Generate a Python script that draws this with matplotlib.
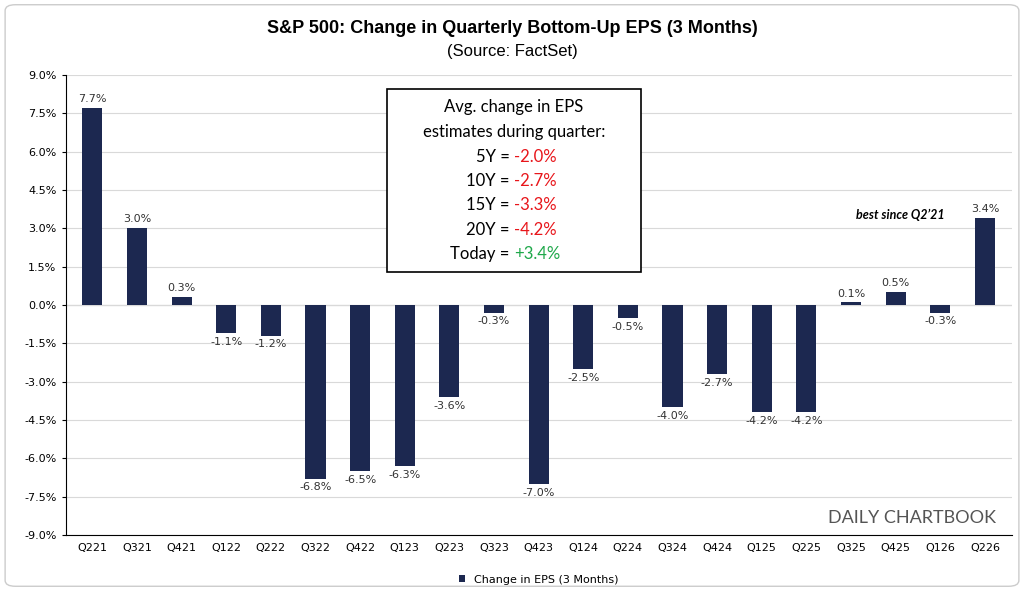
import matplotlib.pyplot as plt
import numpy as np
from matplotlib.patches import FancyBboxPatch

quarters = ['Q221', 'Q321', 'Q421', 'Q122', 'Q222', 'Q322', 'Q422', 'Q123', 'Q223', 'Q323', 'Q423',
            'Q124', 'Q224', 'Q324', 'Q424', 'Q125', 'Q225', 'Q325', 'Q425', 'Q126', 'Q226']
eps_change = [7.7, 3.0, 0.3, -1.1, -1.2, -6.8, -6.5, -6.3, -3.6, -0.3, -7.0,
              -2.5, -0.5, -4.0, -2.7, -4.2, -4.2, 0.1, 0.5, -0.3, 3.4]
box_labels = ['5Y = ', '10Y = ', '15Y = ', '20Y = ', 'Today = ']
box_values = ['-2.0%', '-2.7%', '-3.3%', '-4.2%', '+3.4%']
box_colors = ['#e8161b', '#e8161b', '#e8161b', '#e8161b', '#1fa84a']

fig = plt.figure(figsize=(10.24, 5.91), dpi=100)
ax = fig.add_axes([0.064, 0.095, 0.924, 0.778])
x = np.arange(len(quarters))
ax.bar(x, eps_change, width=0.45, color='#1c2850', label='Change in EPS (3 Months)', zorder=2)

for xi, v in zip(x, eps_change):
    off = 0.15 if v >= 0 else -0.15
    ax.text(xi, v + off, f'{v:.1f}%', ha='center', va='bottom' if v >= 0 else 'top',
            fontsize=8, color='#333333')

ax.set_ylim(-9, 9)
ax.set_xlim(-0.6, len(quarters) - 0.4)
ax.set_yticks(np.arange(-9, 9.1, 1.5))
ax.set_yticklabels([f'{t:.1f}%' for t in np.arange(-9, 9.1, 1.5)], fontsize=8)
ax.set_xticks(x)
ax.set_xticklabels(quarters, fontsize=8)
ax.tick_params(axis='x', length=0, pad=6)
ax.tick_params(axis='y', length=3)
ax.yaxis.grid(True, color='#d9d9d9', linewidth=0.8, zorder=0)
for s in ['top', 'right']:
    ax.spines[s].set_visible(False)
ax.axhline(0, color='#999999', linewidth=0.8, zorder=1)

fig.text(0.5, 0.945, 'S&P 500: Change in Quarterly Bottom-Up EPS (3 Months)',
         ha='center', fontsize=13, fontweight='bold', family='Liberation Sans')
fig.text(0.5, 0.905, '(Source: FactSet)', ha='center', fontsize=12, family='Liberation Sans')

# annotation box
fig.patches.append(plt.Rectangle((0.378, 0.54), 0.248, 0.31, transform=fig.transFigure,
                                 facecolor='white', edgecolor='black', linewidth=1.2, zorder=5))
fig.text(0.502, 0.81, 'Avg. change in EPS', ha='center', fontsize=12, family='Lato', zorder=6)
fig.text(0.502, 0.768, 'estimates during quarter:', ha='center', fontsize=12, family='Lato', zorder=6)
for i, (lab, val, col) in enumerate(zip(box_labels, box_values, box_colors)):
    y = 0.726 - i * 0.041
    fig.text(0.502, y, lab, ha='right', fontsize=12, family='Lato', zorder=6)
    fig.text(0.502, y, val, ha='left', fontsize=12, family='Lato', color=col, zorder=6)

ax.text(18.1, 3.3, 'best since Q2\u201921', ha='center', va='bottom', fontsize=9,
        fontweight='bold', style='italic', family='Lato')
fig.text(0.973, 0.115, 'DAILY CHARTBOOK', ha='right', fontsize=13, color='#555555', family='Lato')

ax.legend(loc='upper center', bbox_to_anchor=(0.5, -0.065), frameon=False, fontsize=8,
          handlelength=0.6, handleheight=0.6)

fig.patches.append(FancyBboxPatch((0.005, 0.008), 0.99, 0.984, boxstyle='round,pad=0,rounding_size=0.01',
                                  transform=fig.transFigure, facecolor='none', edgecolor='#cccccc', linewidth=1))
fig.savefig('out.png', dpi=100)
